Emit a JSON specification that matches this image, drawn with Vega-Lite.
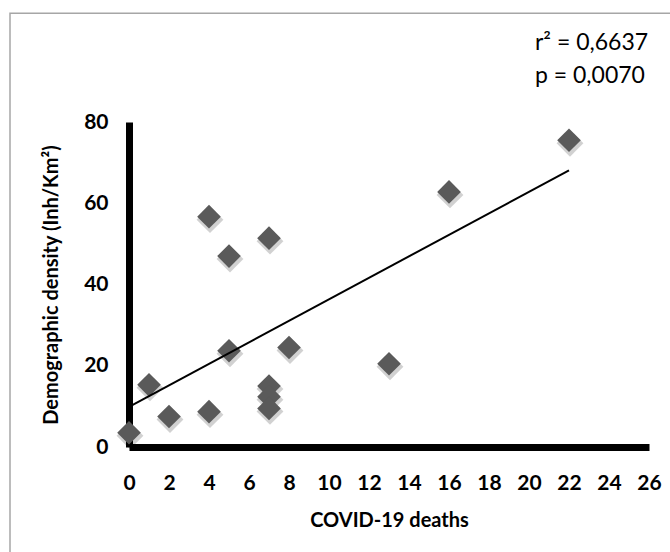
{
  "$schema": "https://vega.github.io/schema/vega-lite/v6.json",
  "width": 520,
  "height": 325,
  "autosize": {"type": "none"},
  "padding": {"left": 129, "top": 122, "right": 21, "bottom": 105},
  "background": "white",
  "config": {
    "view": {"stroke": null},
    "font": "Lato",
    "axis": {"labelOverlap": false, "labelSeparation": 0},
    "axisX": {"labelOverlap": false},
    "axisQuantitative": {"labelOverlap": false}
  },
  "datasets": {
    "points": [
      {"deaths": 0, "density": 3.5},
      {"deaths": 1, "density": 15.3},
      {"deaths": 2, "density": 7.5},
      {"deaths": 4, "density": 8.7},
      {"deaths": 4, "density": 56.7},
      {"deaths": 5, "density": 47.0},
      {"deaths": 5, "density": 23.7},
      {"deaths": 7, "density": 51.4},
      {"deaths": 7, "density": 15.0},
      {"deaths": 7, "density": 12.4},
      {"deaths": 7, "density": 9.5},
      {"deaths": 8, "density": 24.5},
      {"deaths": 13, "density": 20.5},
      {"deaths": 16, "density": 62.8},
      {"deaths": 22, "density": 75.5}
    ],
    "trend": [
      {"deaths": 0, "density": 9.9},
      {"deaths": 22, "density": 68.1}
    ],
    "stats": [
      {"label": "r² = 0,6637", "deaths": 20.3, "density": 99.4},
      {"label": "p = 0,0070", "deaths": 20.3, "density": 91.3}
    ]
  },
  "encoding": {
    "x": {"field": "deaths", "type": "quantitative", "scale": {"domain": [0, 26], "nice": false, "zero": true},
      "axis": {"values": [0, 2, 4, 6, 8, 10, 12, 14, 16, 18, 20, 22, 24, 26], "labelOverlap": false, "title": "COVID-19 deaths", "grid": false, "ticks": false, "domain": true, "domainColor": "#000000", "domainWidth": 7, "labelFont": "Lato", "labelFontWeight": "bold", "labelFontSize": 21, "labelColor": "#000000", "labelPadding": 25, "labelFlush": false, "titleFont": "Lato", "titleFontWeight": "bold", "titleFontSize": 20, "titleColor": "#000000", "titlePadding": 17}},
    "y": {"field": "density", "type": "quantitative", "scale": {"domain": [0, 80], "nice": false, "zero": true},
      "axis": {"values": [0, 20, 40, 60, 80], "labelOverlap": false, "title": "Demographic density (Inh/Km²)", "grid": false, "ticks": false, "domain": true, "domainColor": "#000000", "domainWidth": 7, "labelFont": "Lato", "labelFontWeight": "bold", "labelFontSize": 21, "labelColor": "#000000", "labelPadding": 21, "labelFlush": false, "titleFont": "Lato", "titleFontWeight": "bold", "titleFontSize": 20, "titleColor": "#000000", "titlePadding": 22}}
  },
  "layer": [
    {
      "data": {"name": "points"},
      "mark": {"type": "point", "shape": "diamond", "filled": true, "color": "#000000", "opacity": 0.18, "size": 720, "xOffset": 1, "yOffset": 3}
    },
    {
      "data": {"name": "points"},
      "mark": {"type": "point", "shape": "diamond", "filled": true, "color": "#5a5a5a", "opacity": 1, "size": 560}
    },
    {
      "data": {"name": "trend"},
      "mark": {"type": "line", "color": "#000000", "strokeWidth": 2}
    },
    {
      "data": {"name": "stats"},
      "mark": {"type": "text", "align": "left", "baseline": "middle", "font": "Lato", "fontSize": 23, "color": "#000000"},
      "encoding": {
        "text": {"field": "label"}
      }
    },
    {
      "data": {"values": [{"left": -5.95, "right": 40, "top": 106.8, "bottom": -40}]},
      "mark": {"type": "rect", "fill": null, "stroke": "#a6a6a6", "strokeWidth": 1.5, "clip": false},
      "encoding": {
        "x": {"field": "left", "type": "quantitative"},
        "x2": {"field": "right"},
        "y": {"field": "top", "type": "quantitative"},
        "y2": {"field": "bottom"}
      }
    }
  ]
}
